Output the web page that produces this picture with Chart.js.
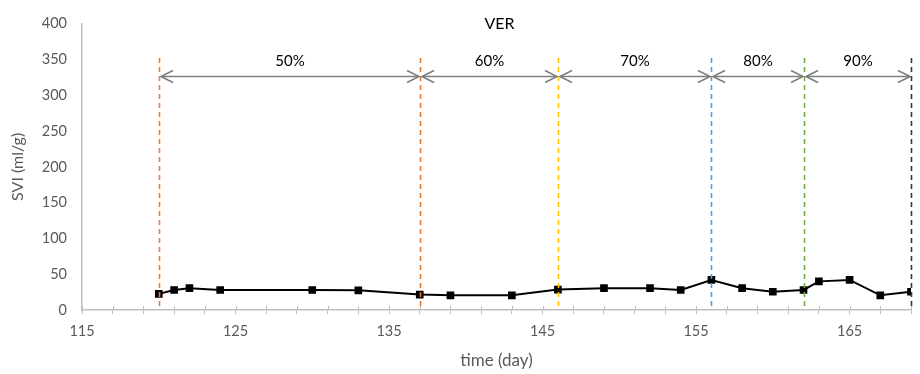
<!DOCTYPE html>
<html>
<head>
<meta charset="utf-8">
<script src="https://cdn.jsdelivr.net/npm/chart.js@4.4.1/dist/chart.umd.min.js"></script>
<style>
html,body{margin:0;padding:0;background:#fff;}
#wrap{width:920px;height:374px;position:relative;}
</style>
</head>
<body>
<div id="wrap"><canvas id="c" width="920" height="374"></canvas></div>
<script>
// Data
const days = [120,121,122,124,130,133,137,139,143,146,149,152,154,156,158,160,162,163,165,167,169];
const svi  = [22.5,28,30.5,28,28,27.5,21.5,20.5,20.5,28.5,30.5,30.5,28,42,30.5,25.5,28,40,42,20.5,25.5];
const phaseBounds = [120,137,146,156,162,169];
const phaseLabels = ['50%','60%','70%','80%','90%'];
const boundColors = ['#ED7D31','#E27B35','#FFC000','#5B9BD5','#70AD47','#1F3864'];
const yTicks = [0,50,100,150,200,250,300,350,400];
const xLabelTicks = [115,125,135,145,155,165];
const chartTitle = 'VER';

const FONT = 'Lato, "Open Sans", sans-serif';
const GREY = '#595959';

const overlay = {
  id:'overlay',
  afterDatasetsDraw(chart){
    const {ctx, chartArea, scales:{x,y}} = chart;
    ctx.save();
    // small tick marks above x axis (ticks cross the axis)
    ctx.strokeStyle = '#BFBFBF'; ctx.lineWidth = 1;
    x.ticks.forEach(t=>{
      const px = Math.round(x.getPixelForValue(t.value))+0.5;
      ctx.beginPath(); ctx.moveTo(px, chartArea.bottom-4); ctx.lineTo(px, chartArea.bottom); ctx.stroke();
    });
    // dashed phase boundaries
    const yTop = y.getPixelForValue(352), yBot = y.getPixelForValue(0);
    ctx.lineWidth = 1.6;
    ctx.setLineDash([5,4]);
    phaseBounds.forEach((d,i)=>{
      const px = Math.round(x.getPixelForValue(d))+0.5;
      ctx.strokeStyle = boundColors[i];
      ctx.beginPath(); ctx.moveTo(px,yTop); ctx.lineTo(px,yBot); ctx.stroke();
    });
    ctx.setLineDash([]);
    // arrows
    const ay = Math.round(y.getPixelForValue(327))+0.5;
    const ly = y.getPixelForValue(348);
    ctx.strokeStyle = '#7F7F7F';
    ctx.lineWidth = 1.6;
    for(let i=0;i<phaseLabels.length;i++){
      const x1 = Math.round(x.getPixelForValue(phaseBounds[i]))+2;
      const x2 = Math.round(x.getPixelForValue(phaseBounds[i+1]))-1;
      ctx.beginPath(); ctx.moveTo(x1,ay); ctx.lineTo(x2,ay); ctx.stroke();
      ctx.beginPath();
      ctx.moveTo(x1+12,ay-6); ctx.lineTo(x1,ay); ctx.lineTo(x1+12,ay+6);
      ctx.moveTo(x2-12,ay-6); ctx.lineTo(x2,ay); ctx.lineTo(x2-12,ay+6);
      ctx.stroke();
      ctx.fillStyle = '#000';
      ctx.font = '15px ' + FONT;
      ctx.textAlign = 'center'; ctx.textBaseline = 'middle';
      ctx.fillText(phaseLabels[i], (x1+x2)/2, ly);
    }
    // title
    ctx.fillStyle = '#000';
    ctx.font = '16px ' + FONT;
    ctx.textAlign='center'; ctx.textBaseline='middle';
    ctx.fillText(chartTitle, x.getPixelForValue(142.2), chartArea.top);
    ctx.restore();
  }
};

new Chart(document.getElementById('c'), {
  type:'line',
  data:{
    datasets:[{
      data: days.map((d,i)=>({x:d,y:svi[i]})),
      borderColor:'#000',
      backgroundColor:'#000',
      borderWidth:2,
      pointStyle:'rect',
      pointRadius:4,
      pointHoverRadius:4,
      tension:0
    }]
  },
  options:{
    responsive:false,
    animation:false,
    devicePixelRatio:1,
    layout:{padding:{top:22,right:7,left:0,bottom:0}},
    plugins:{legend:{display:false},title:{display:false},tooltip:{enabled:false}},
    scales:{
      x:{
        type:'linear', min:115, max:169,
        afterBuildTicks(s){ const t=[]; for(let v=115; v<=169; v+=2) t.push({value:v}); s.ticks=t; },
        afterFit(s){ s.height = 64; },
        ticks:{
          autoSkip:false, maxRotation:0,
          padding:9,
          color:GREY, font:{family:FONT,size:14.5},
          callback:(v)=> xLabelTicks.includes(v) ? String(v) : ''
        },
        grid:{drawOnChartArea:false, drawTicks:true, tickLength:4, color:'#BFBFBF', lineWidth:1},
        border:{display:true, color:'#BFBFBF', width:1.5},
        title:{display:true, text:'time (day)', color:GREY, font:{family:FONT,size:17}, padding:{top:0,bottom:3}}
      },
      y:{
        min:0, max:400,
        afterBuildTicks(s){ s.ticks = yTicks.map(v=>({value:v})); },
        afterFit(s){ s.width = 82; },
        ticks:{padding:15, color:GREY, font:{family:FONT,size:14.5}},
        grid:{display:true, drawOnChartArea:false, drawTicks:false},
        border:{display:true, color:'#BFBFBF', width:1.5},
        title:{display:true, text:'SVI (ml/g)', color:GREY, font:{family:FONT,size:16}, padding:{top:8,bottom:0}}
      }
    }
  },
  plugins:[overlay]
});
</script>
</body>
</html>
